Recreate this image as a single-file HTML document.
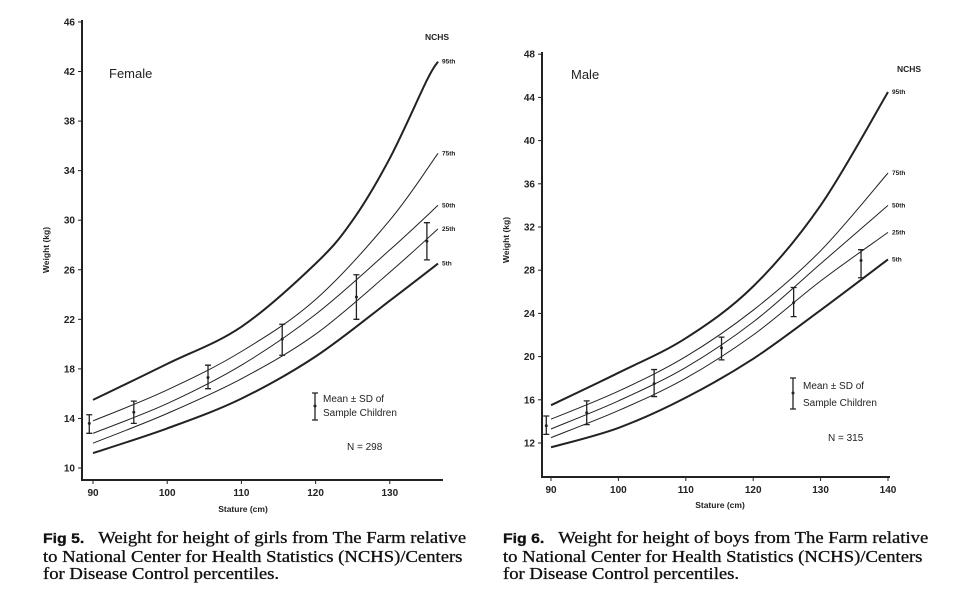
<!DOCTYPE html>
<html><head><meta charset="utf-8"><style>
body{margin:0;background:#fff;width:960px;height:593px;overflow:hidden}
svg{position:absolute;left:0;top:0}
.cap{position:absolute;font-family:"Liberation Serif",serif;font-size:16.5px;line-height:17.5px;color:#111;width:400px;white-space:nowrap;transform:scaleX(1.13);transform-origin:0 0;-webkit-text-stroke:0.3px #111}
</style></head><body>
<svg id="s" width="960" height="593" font-family="Liberation Sans, sans-serif" fill="#222"></svg>
<div class="cap" style="left:43px;top:529px"><b style="font-family:'Liberation Sans',sans-serif;font-size:14px">Fig 5.</b>&nbsp;&nbsp;&nbsp;Weight for height of girls from The Farm relative<br>to National Center for Health Statistics (NCHS)/Centers<br>for Disease Control percentiles.</div>
<div class="cap" style="left:503px;top:529px"><b style="font-family:'Liberation Sans',sans-serif;font-size:14px">Fig 6.</b>&nbsp;&nbsp;&nbsp;Weight for height of boys from The Farm relative<br>to National Center for Health Statistics (NCHS)/Centers<br>for Disease Control percentiles.</div>
<script>
var s=document.getElementById('s'),h='';
function cr(pts){var d='M'+pts[0][0].toFixed(1)+','+pts[0][1].toFixed(1);
for(var i=0;i<pts.length-1;i++){var p0=pts[i-1]||pts[i],p1=pts[i],p2=pts[i+1],p3=pts[i+2]||p2;
d+=' C'+(p1[0]+(p2[0]-p0[0])/6).toFixed(1)+','+(p1[1]+(p2[1]-p0[1])/6).toFixed(1)+' '+(p2[0]-(p3[0]-p1[0])/6).toFixed(1)+','+(p2[1]-(p3[1]-p1[1])/6).toFixed(1)+' '+p2[0].toFixed(1)+','+p2[1].toFixed(1);}return d;}
function chart(c){
var X=function(v){return c.x0+(v-90)*c.sx},Y=function(w){return c.y0-(w-c.w0)*c.sy};
h+='<path d="M'+c.ax+','+c.top+' V'+c.axy+' H'+c.axr+'" stroke="#222" stroke-width="2" fill="none"/>';
c.yt.forEach(function(t){var y=Y(t);h+='<line x1="'+(c.ax-4)+'" y1="'+y+'" x2="'+c.ax+'" y2="'+y+'" stroke="#222"/><text x="'+(c.ax-7)+'" y="'+(y+3.5)+'" font-size="10" font-weight="bold" text-anchor="end">'+t+'</text>';});
c.xt.forEach(function(t){var x=X(t);h+='<line x1="'+x+'" y1="'+c.axy+'" x2="'+x+'" y2="'+(c.axy+4)+'" stroke="#222"/><text x="'+x+'" y="'+(c.axy+16)+'" font-size="10" font-weight="bold" text-anchor="middle">'+t+'</text>';});
c.curves.forEach(function(cv){var pts=cv.p.map(function(q){return [X(q[0]),Y(q[1])]});
h+='<path d="'+cr(pts)+'" stroke="#222" stroke-width="'+cv.w+'" fill="none"/>';
var e=pts[pts.length-1];h+='<text x="'+(e[0]+4)+'" y="'+(e[1]+2)+'" font-size="6.5" font-weight="bold">'+cv.l+'</text>';});
c.eb.forEach(function(b){var x=X(b[0]);h+='<path d="M'+x+','+Y(b[2])+' V'+Y(b[3])+' M'+(x-3)+','+Y(b[2])+' h6 M'+(x-3)+','+Y(b[3])+' h6" stroke="#222" stroke-width="1.3" fill="none"/><circle cx="'+x+'" cy="'+Y(b[1])+'" r="1.5"/>';});
h+=c.extra;}
chart({x0:93,sx:7.42,y0:468,w0:10,sy:12.39,ax:82,top:20,axy:480,axr:443,
yt:[10,14,18,22,26,30,34,38,42,46],xt:[90,100,110,120,130],
curves:[{l:'95th',w:2,p:[[90,15.5],[100,18.4],[110,21.4],[120,26.5],[125,30],[130,35],[135,41.3],[136.5,42.8]]},
{l:'75th',w:1,p:[[90,13.8],[100,16.3],[110,19.4],[120,23.6],[130,30],[136.5,35.4]]},
{l:'50th',w:1,p:[[90,12.8],[100,15.2],[110,18.3],[120,22.4],[130,27.6],[136.5,31.2]]},
{l:'25th',w:1,p:[[90,12],[100,14.4],[110,17.2],[120,20.8],[130,25.8],[136.5,29.3]]},
{l:'5th',w:2,p:[[90,11.2],[100,13.2],[110,15.6],[120,19],[130,23.5],[136.5,26.5]]}],
eb:[[89.5,13.6,12.8,14.3],[95.5,14.5,13.6,15.4],[105.5,17.3,16.4,18.3],[115.5,20.4,19.1,21.6],[125.5,23.8,22,25.6],[135,28.3,26.8,29.8]],
extra:'<text x="109" y="78" font-size="13">Female</text><text x="425" y="40" font-size="8.5" font-weight="bold">NCHS</text>'+
'<path d="M315,393 V420 M312,393 h6 M312,420 h6" stroke="#222" stroke-width="1.3"/><circle cx="315" cy="406" r="1.5"/>'+
'<text x="323" y="402" font-size="10">Mean ± SD of</text><text x="323" y="416" font-size="10">Sample Children</text><text x="347" y="450" font-size="10">N = 298</text>'+
'<text x="243" y="512" font-size="8.5" font-weight="bold" text-anchor="middle">Stature (cm)</text><text transform="translate(49,250) rotate(-90)" font-size="8.5" font-weight="bold" text-anchor="middle">Weight (kg)</text>'});
chart({x0:551,sx:6.74,y0:443,w0:12,sy:10.8,ax:542,top:52,axy:477,axr:890,
yt:[12,16,20,24,28,32,36,40,44,48],xt:[90,100,110,120,130,140],
curves:[{l:'95th',w:2,p:[[90,15.5],[100,18.5],[110,21.7],[120,26.5],[130,34],[140,44.5]]},
{l:'75th',w:1,p:[[90,14.2],[100,16.8],[110,20],[120,24.3],[130,29.8],[140,37]]},
{l:'50th',w:1,p:[[90,13.3],[100,15.9],[110,19],[120,23.2],[130,28.6],[140,34]]},
{l:'25th',w:1,p:[[90,12.5],[100,15],[110,18],[120,22],[130,27],[140,31.5]]},
{l:'5th',w:2,p:[[90,11.6],[100,13.4],[110,16.2],[120,19.8],[130,24.3],[140,29]]}],
eb:[[89.3,13.6,12.8,14.5],[95.3,14.8,13.7,15.9],[105.3,17.5,16.3,18.8],[115.3,20.8,19.7,21.8],[126,25,23.7,26.4],[136,28.9,27.3,29.9]],
extra:'<text x="571" y="79" font-size="13">Male</text><text x="897" y="72" font-size="8.5" font-weight="bold">NCHS</text>'+
'<path d="M793,378 V409 M790,378 h6 M790,409 h6" stroke="#222" stroke-width="1.3"/><circle cx="793" cy="393" r="1.5"/>'+
'<text x="803" y="389" font-size="10">Mean ± SD of</text><text x="803" y="406" font-size="10">Sample Children</text><text x="828" y="441" font-size="10">N = 315</text>'+
'<text x="720" y="508" font-size="8.5" font-weight="bold" text-anchor="middle">Stature (cm)</text><text transform="translate(509,240) rotate(-90)" font-size="8.5" font-weight="bold" text-anchor="middle">Weight (kg)</text>'});
s.innerHTML=h;
</script>
</body></html>
